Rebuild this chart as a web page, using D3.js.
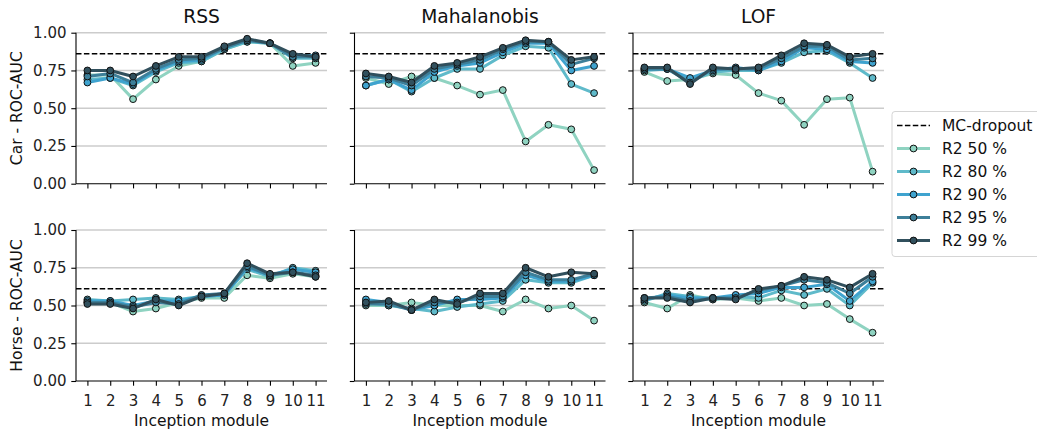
<!DOCTYPE html>
<html lang="en">
<head>
  <meta charset="UTF-8" />
  <title>ROC-AUC per inception module</title>
  <script src="https://d3js.org/d3.v7.min.js"></script>
  <style>
    body { margin: 0; background: #fff; }
    svg { font-family: "DejaVu Sans", sans-serif; display: block; }
    .grid line { stroke: #cccccc; stroke-width: 1.5px; }
    .axis path, .axis line { stroke: #000; stroke-width: 1.1px; }
    .axis text { font-size: 15px; fill: #222; font-family: "DejaVu Sans", sans-serif; }
  </style>
</head>
<body>
<svg id="chart" width="1037" height="429"></svg>
<script>
  // modules on the x axis
  const modules = [1, 2, 3, 4, 5, 6, 7, 8, 9, 10, 11];
  const yTicks = [0, 0.25, 0.5, 0.75, 1.0];
  const methods = ["RSS", "Mahalanobis", "LOF"];
  const datasets = ["Car", "Horse"];
  const seriesNames = ["R2 50 %", "R2 80 %", "R2 90 %", "R2 95 %", "R2 99 %"];
  const seriesColors = ["#8fd3c1", "#5fbaca", "#3fa3cf", "#3d7f99", "#31505d"];
  const mcDropout = [0.861, 0.611]; // car, horse

  // rows: R2 50, 80, 90, 95, 99
  const carRSS = [
    [0.72, 0.72, 0.56, 0.69, 0.78, 0.81, 0.89, 0.94, 0.93, 0.78, 0.80],
    [0.69, 0.70, 0.65, 0.74, 0.80, 0.81, 0.89, 0.94, 0.93, 0.83, 0.83],
    [0.67, 0.70, 0.66, 0.75, 0.81, 0.82, 0.90, 0.95, 0.93, 0.84, 0.85],
    [0.71, 0.73, 0.67, 0.76, 0.82, 0.83, 0.90, 0.95, 0.93, 0.84, 0.84],
    [0.75, 0.75, 0.71, 0.78, 0.84, 0.84, 0.91, 0.96, 0.93, 0.86, 0.84]
  ];
  const carMaha = [
    [0.70, 0.66, 0.71, 0.70, 0.65, 0.59, 0.62, 0.28, 0.39, 0.36, 0.09],
    [0.65, 0.69, 0.61, 0.70, 0.76, 0.76, 0.85, 0.91, 0.90, 0.66, 0.60],
    [0.65, 0.69, 0.62, 0.74, 0.78, 0.80, 0.87, 0.93, 0.93, 0.75, 0.78],
    [0.71, 0.70, 0.65, 0.76, 0.79, 0.82, 0.89, 0.94, 0.94, 0.79, 0.83],
    [0.73, 0.71, 0.67, 0.78, 0.80, 0.84, 0.90, 0.95, 0.94, 0.82, 0.84]
  ];
  const carLOF = [
    [0.74, 0.68, 0.69, 0.73, 0.72, 0.60, 0.55, 0.39, 0.56, 0.57, 0.08],
    [0.75, 0.76, 0.68, 0.74, 0.75, 0.75, 0.80, 0.87, 0.88, 0.80, 0.70],
    [0.76, 0.76, 0.70, 0.75, 0.77, 0.75, 0.81, 0.90, 0.89, 0.81, 0.80],
    [0.76, 0.76, 0.67, 0.76, 0.76, 0.76, 0.83, 0.91, 0.91, 0.82, 0.83],
    [0.77, 0.77, 0.66, 0.77, 0.76, 0.77, 0.85, 0.93, 0.92, 0.84, 0.86]
  ];
  const horseRSS = [
    [0.52, 0.52, 0.46, 0.48, 0.52, 0.55, 0.55, 0.70, 0.68, 0.71, 0.69],
    [0.54, 0.53, 0.54, 0.55, 0.54, 0.56, 0.57, 0.74, 0.69, 0.75, 0.73],
    [0.53, 0.53, 0.50, 0.53, 0.53, 0.56, 0.57, 0.75, 0.70, 0.74, 0.72],
    [0.52, 0.52, 0.49, 0.52, 0.51, 0.57, 0.58, 0.76, 0.70, 0.72, 0.70],
    [0.51, 0.51, 0.48, 0.54, 0.50, 0.56, 0.58, 0.78, 0.71, 0.72, 0.69]
  ];
  const horseMaha = [
    [0.50, 0.50, 0.52, 0.50, 0.50, 0.50, 0.46, 0.54, 0.48, 0.50, 0.40],
    [0.52, 0.50, 0.48, 0.46, 0.49, 0.51, 0.53, 0.67, 0.65, 0.65, 0.70],
    [0.54, 0.52, 0.47, 0.50, 0.54, 0.54, 0.55, 0.70, 0.66, 0.66, 0.70],
    [0.51, 0.51, 0.47, 0.52, 0.52, 0.56, 0.56, 0.72, 0.67, 0.67, 0.71],
    [0.52, 0.53, 0.47, 0.54, 0.51, 0.58, 0.58, 0.75, 0.69, 0.72, 0.71]
  ];
  const horseLOF = [
    [0.52, 0.48, 0.57, 0.54, 0.55, 0.53, 0.55, 0.50, 0.51, 0.41, 0.32],
    [0.53, 0.58, 0.56, 0.54, 0.56, 0.55, 0.60, 0.57, 0.61, 0.50, 0.65],
    [0.54, 0.57, 0.55, 0.55, 0.57, 0.58, 0.62, 0.62, 0.64, 0.53, 0.66],
    [0.55, 0.56, 0.53, 0.55, 0.55, 0.60, 0.63, 0.67, 0.65, 0.58, 0.69],
    [0.55, 0.55, 0.52, 0.55, 0.54, 0.61, 0.63, 0.69, 0.67, 0.62, 0.71]
  ];

  const panelData = [
    [carRSS, carMaha, carLOF],
    [horseRSS, horseMaha, horseLOF]
  ];

  const svg = d3.select("#chart");

  const colLefts = [76, 354.5, 633];
  const panelW = 251;
  const rowTops = [32.7, 230];
  const panelH = 151;

  for (let r = 0; r < 2; r++) {
    for (let c = 0; c < 3; c++) {
      const x = d3.scaleLinear().domain([0.5, 11.5]).range([colLefts[c], colLefts[c] + panelW]);
      const y = d3.scaleLinear().domain([0, 1]).range([rowTops[r] + panelH, rowTops[r]]);
      const g = svg.append("g");

      // horizontal grid
      g.append("g").attr("class", "grid")
        .selectAll("line")
        .data(yTicks.filter(t => t > 0))
        .join("line")
        .attr("x1", x.range()[0]).attr("x2", x.range()[1])
        .attr("y1", d => y(d)).attr("y2", d => y(d));

      // MC-dropout baseline
      g.append("line")
        .attr("x1", x.range()[0]).attr("x2", x.range()[1])
        .attr("y1", y(mcDropout[r])).attr("y2", y(mcDropout[r]))
        .attr("stroke", "#000").attr("stroke-width", 1.5)
        .attr("stroke-dasharray", "5.5,2.4");

      const line = d3.line().x((d, i) => x(modules[i])).y(d => y(d));
      panelData[r][c].forEach((vals, s) => {
        const sg = g.append("g");
        sg.append("path")
          .datum(vals)
          .attr("d", line)
          .attr("fill", "none")
          .attr("stroke", seriesColors[s])
          .attr("stroke-width", 3)
          .attr("stroke-linejoin", "round");
        sg.selectAll("circle")
          .data(vals)
          .join("circle")
          .attr("cx", (d, i) => x(modules[i]))
          .attr("cy", d => y(d))
          .attr("r", 3.4)
          .attr("fill", seriesColors[s])
          .attr("stroke", "#111")
          .attr("stroke-width", 1);
      });

      // axes
      const xAxis = d3.axisBottom(x).tickValues(modules).tickSize(4.7).tickPadding(9.5);
      if (r === 0) xAxis.tickFormat("");
      const xg = g.append("g").attr("class", "axis")
        .attr("transform", `translate(0,${y(0)})`)
        .call(xAxis);
      xg.select(".domain").attr("d", `M${x.range()[0]},0H${x.range()[1]}`);

      const yAxis = d3.axisLeft(y).tickValues(yTicks).tickSize(4.7).tickPadding(4.8)
        .tickFormat(c === 0 ? d3.format(".2f") : "");
      const yg = g.append("g").attr("class", "axis")
        .attr("transform", `translate(${x.range()[0]},0)`)
        .call(yAxis);
      yg.select(".domain").attr("d", `M0,${y(0)}V${y(1)}`);

      if (r === 0) {
        g.append("text")
          .attr("x", colLefts[c] + panelW / 2)
          .attr("y", 23)
          .attr("text-anchor", "middle")
          .attr("font-size", 18.7)
          .attr("fill", "#111")
          .text(methods[c]);
      } else {
        g.append("text")
          .attr("x", colLefts[c] + panelW / 2)
          .attr("y", 426)
          .attr("text-anchor", "middle")
          .attr("font-size", 15.5)
          .attr("fill", "#111")
          .text("Inception module");
      }
      if (c === 0) {
        g.append("text")
          .attr("transform", `translate(22,${rowTops[r] + panelH / 2}) rotate(-90)`)
          .attr("text-anchor", "middle")
          .attr("font-size", 15.5)
          .attr("fill", "#111")
          .text(datasets[r] + " - ROC-AUC");
      }
    }
  }

  // legend
  const lg = svg.append("g").attr("transform", "translate(892,111.5)");
  lg.append("rect")
    .attr("width", 160).attr("height", 145)
    .attr("rx", 3)
    .attr("fill", "#fff").attr("fill-opacity", 0.8)
    .attr("stroke", "#d5d5d5").attr("stroke-width", 1);
  const legendItems = [{ name: "MC-dropout", dashed: true }]
    .concat(seriesNames.map((n, i) => ({ name: n, color: seriesColors[i] })));
  legendItems.forEach((it, i) => {
    const yy = 14 + i * 23;
    if (it.dashed) {
      lg.append("line")
        .attr("x1", 5).attr("x2", 38).attr("y1", yy).attr("y2", yy)
        .attr("stroke", "#000").attr("stroke-width", 1.5)
        .attr("stroke-dasharray", "5.5,2.4");
    } else {
      lg.append("line")
        .attr("x1", 5).attr("x2", 38).attr("y1", yy).attr("y2", yy)
        .attr("stroke", it.color).attr("stroke-width", 3);
      lg.append("circle")
        .attr("cx", 21.5).attr("cy", yy).attr("r", 3.4)
        .attr("fill", it.color).attr("stroke", "#111").attr("stroke-width", 1);
    }
    lg.append("text")
      .attr("x", 50).attr("y", yy + 5.5)
      .attr("font-size", 15.5)
      .attr("fill", "#111")
      .text(it.name);
  });
</script>
</body>
</html>
